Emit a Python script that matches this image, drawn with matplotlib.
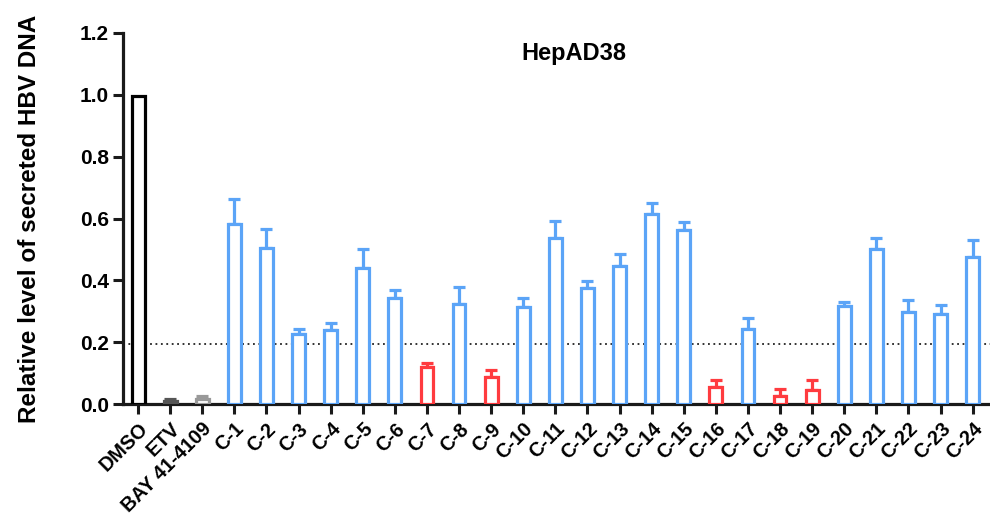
import matplotlib
matplotlib.use("Agg")
import matplotlib.pyplot as plt
import numpy as np

plt.rcParams['font.family'] = ['Liberation Sans', 'DejaVu Sans']
plt.rcParams['font.weight'] = 'bold'

categories = ['DMSO', 'ETV', 'BAY 41-4109'] + [f'C-{i}' for i in range(1, 25)]
values = [0.995, 0.010, 0.015,
          0.581, 0.504, 0.225, 0.239, 0.439, 0.342, 0.121, 0.323, 0.087, 0.313,
          0.536, 0.375, 0.446, 0.614, 0.563, 0.056, 0.242, 0.026, 0.045, 0.317,
          0.502, 0.299, 0.292, 0.476]
err_top = [0.995, 0.015, 0.025,
           0.663, 0.566, 0.242, 0.261, 0.502, 0.370, 0.132, 0.378, 0.109, 0.342,
           0.591, 0.398, 0.485, 0.651, 0.590, 0.078, 0.278, 0.048, 0.078, 0.331,
           0.537, 0.336, 0.321, 0.531]
red_set = {'C-7', 'C-9', 'C-16', 'C-18', 'C-19'}
threshold = 0.193

BLUE = '#5BA4F7'
RED = '#FF3B3F'
def color_for(c):
    if c == 'DMSO':
        return '#000000'
    if c == 'ETV':
        return '#555555'
    if c == 'BAY 41-4109':
        return '#999999'
    return RED if c in red_set else BLUE

fig = plt.figure(figsize=(9.9, 5.17), dpi=100)
ax = fig.add_axes([123/990, 1 - 404/517, (990-123)/990, (404-33)/517])

x = np.arange(len(categories))
cols = [color_for(c) for c in categories]
for xi, v, et, c in zip(x, values, err_top, cols):
    ax.bar(xi, v, width=0.4, facecolor='white', edgecolor=c, linewidth=2.3, zorder=3)
    if et > v:
        ax.errorbar(xi, v, yerr=[[0], [et - v]], fmt='none', ecolor=c,
                    elinewidth=2.3, capsize=4.5, capthick=2.3, zorder=2)

ax.axhline(threshold, color='#222222', linestyle=(0, (1, 2.0)), linewidth=1.3, zorder=1)

ax.set_xlim(-0.47, len(categories) - 0.46)
ax.set_ylim(0, 1.2)
ax.set_yticks([0.0, 0.2, 0.4, 0.6, 0.8, 1.0, 1.2])
ax.set_yticklabels([f'{t:.1f}' for t in [0.0, 0.2, 0.4, 0.6, 0.8, 1.0, 1.2]],
                   fontsize=15, fontweight='bold')
ax.set_xticks(x)
ax.set_xticklabels(categories, rotation=45, ha='right', rotation_mode='anchor',
                   fontsize=14.3, fontweight='bold')
ax.tick_params(axis='both', direction='out', length=7, width=2.2, color='#1a1a1a')
ax.tick_params(axis='x', pad=4)
ax.tick_params(axis='y', pad=3)
for s in ['top', 'right']:
    ax.spines[s].set_visible(False)
for s in ['left', 'bottom']:
    ax.spines[s].set_linewidth(2.3)
    ax.spines[s].set_color('#1a1a1a')

ax.set_ylabel('Relative level of secreted HBV DNA', fontsize=17.5, fontweight='bold', labelpad=28)
ax.text(0.52, 0.975, 'HepAD38', transform=ax.transAxes, ha='center', va='top',
        fontsize=17, fontweight='bold')

fig.savefig('out.png', dpi=100)
